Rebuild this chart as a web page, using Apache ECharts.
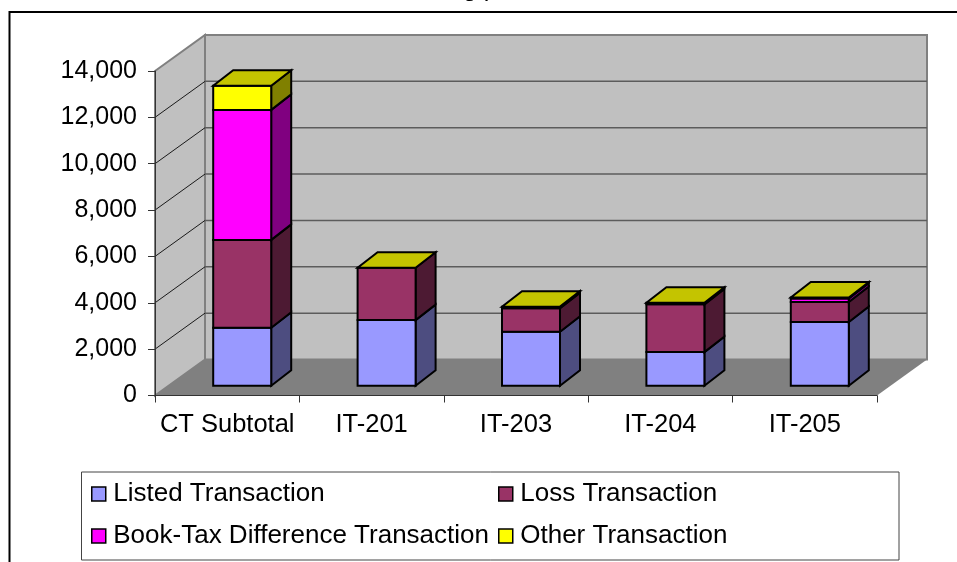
<!DOCTYPE html>
<html>
<head>
<meta charset="utf-8">
<style>html,body{margin:0;padding:0;background:#fff}#chart{width:957px;height:562px}</style>
<script src="https://cdn.jsdelivr.net/npm/echarts@6/dist/echarts.min.js"></script>
</head>
<body>
<div id="chart"></div>
<script>
// Transaction counts by tax form, stacked by transaction type
const categories = ['CT Subtotal', 'IT-201', 'IT-203', 'IT-204', 'IT-205'];
const listed  = [2500, 2830, 2330, 1450, 2750];
const loss    = [3790, 2260, 1010, 2060, 860];
const bookTax = [5610, 0, 0, 0, 150];
const other   = [1040, 0, 70, 70, 45];
const yTicks  = [0, 2000, 4000, 6000, 8000, 10000, 12000, 14000];

const FONT = '"Liberation Sans", Arial, sans-serif';
const WALL_DX = 50, WALL_DY = -36;        // depth of the whole plot box
const BAR_DX = 15, BAR_DY = -9.8;         // gap between front edge and bar front
const DEPTH_DX = 20, DEPTH_DY = -15.5;    // depth of one bar
const BAR_HALF = 29;
const EDGE = { stroke: '#000', lineWidth: 2, lineJoin: 'miter' };

const seriesDefs = [
  { name: 'Listed Transaction', values: listed, front: '#9999ff', side: '#4d4d80' },
  { name: 'Loss Transaction', values: loss, front: '#993366', side: '#4d1a33' },
  { name: 'Book-Tax Difference Transaction', values: bookTax, front: '#ff00ff', side: '#800080' },
  { name: 'Other Transaction', values: other, front: '#ffff00', side: '#808000' }
];

function poly(points, fill, style) {
  return { type: 'polygon', shape: { points }, style: Object.assign({ fill }, style) };
}

// Side wall, back wall, floor and their gridlines
function renderWalls(params, api) {
  const cs = params.coordSys;
  const l = cs.x, r = cs.x + cs.width, t = cs.y, b = cs.y + cs.height;
  const wall = { stroke: '#808080', lineWidth: 2 };
  const children = [
    poly([[l, b], [l + WALL_DX, b + WALL_DY], [r + WALL_DX, b + WALL_DY], [r, b]], '#808080'),
    poly([[l + WALL_DX, t + WALL_DY], [r + WALL_DX, t + WALL_DY], [r + WALL_DX, b + WALL_DY], [l + WALL_DX, b + WALL_DY]], '#c0c0c0', wall),
    poly([[l, t], [l + WALL_DX, t + WALL_DY], [l + WALL_DX, b + WALL_DY], [l, b]], '#c0c0c0', wall)
  ];
  yTicks.forEach(v => {
    if (v === 0 || v === 14000) return;
    const y = api.coord([0, v])[1];
    children.push({ type: 'line', shape: { x1: l, y1: y, x2: l + WALL_DX, y2: y + WALL_DY }, style: { stroke: '#1a1a1a', lineWidth: 1 } });
    children.push({ type: 'line', shape: { x1: l + WALL_DX, y1: y + WALL_DY, x2: r + WALL_DX, y2: y + WALL_DY }, style: { stroke: '#5c5c5c', lineWidth: 1.5 } });
  });
  return { type: 'group', children };
}

// One stacked block: front face, right face, and the lid on the last series
function makeRenderer(def, isTop) {
  return function (params, api) {
    const i = api.value(0), lo = api.value(1), hi = api.value(2);
    const pLo = api.coord([i, lo]), pHi = api.coord([i, hi]);
    const xl = pLo[0] + BAR_DX - BAR_HALF, xr = pLo[0] + BAR_DX + BAR_HALF;
    const yb = pLo[1] + BAR_DY, yt = pHi[1] + BAR_DY;
    const children = [];
    if (hi > lo) {
      children.push(poly([[xr, yb], [xr + DEPTH_DX, yb + DEPTH_DY], [xr + DEPTH_DX, yt + DEPTH_DY], [xr, yt]], def.side, EDGE));
      children.push(poly([[xl, yb], [xr, yb], [xr, yt], [xl, yt]], def.front, EDGE));
    }
    if (isTop) {
      children.push(poly([[xl, yt], [xr, yt], [xr + DEPTH_DX, yt + DEPTH_DY], [xl + DEPTH_DX, yt + DEPTH_DY]], '#c4c400', EDGE));
    }
    return { type: 'group', children };
  };
}

const running = categories.map(() => 0);
const barSeries = seriesDefs.map((def, s) => {
  const data = def.values.map((v, i) => {
    const row = [i, running[i], running[i] + v];
    running[i] += v;
    return row;
  });
  return {
    type: 'custom', name: def.name, coordinateSystem: 'cartesian2d', z: 3 + s,
    itemStyle: { color: def.front },
    encode: { x: 0, y: [1, 2] }, data, clip: false,
    renderItem: makeRenderer(def, s === seriesDefs.length - 1)
  };
});

const legendBase = {
  orient: 'vertical', selectedMode: false, icon: 'rect', itemWidth: 14, itemHeight: 14,
  itemGap: 14, padding: 0,
  itemStyle: { borderColor: '#000', borderWidth: 1.5 },
  textStyle: { fontFamily: FONT, fontSize: 26, color: '#000', padding: [0, 0, 0, 2.5], lineHeight: 28 }
};

const chart = echarts.init(document.getElementById('chart'), null, { renderer: 'canvas' });
chart.setOption({
  animation: false,
  backgroundColor: '#fff',
  grid: { left: 155, right: 80, top: 71, bottom: 166.5 },
  xAxis: {
    type: 'category', data: categories, z: 8,
    axisLine: { lineStyle: { color: '#333', width: 1 } },
    axisTick: { show: true, alignWithLabel: false, length: 7, lineStyle: { color: '#333' } },
    axisLabel: { fontFamily: FONT, fontSize: 25.5, color: '#000', margin: 16, interval: 0 }
  },
  yAxis: {
    type: 'value', min: 0, max: 14000, interval: 2000, z: 8,
    splitLine: { show: false },
    axisLine: { show: true, lineStyle: { color: '#333', width: 1 } },
    axisTick: { show: true, length: 7, lineStyle: { color: '#333' } },
    axisLabel: { fontFamily: FONT, fontSize: 25, color: '#000', margin: 18, padding: [6, 0, 0, 0],
      formatter: v => v.toLocaleString('en-US') }
  },
  legend: [
    Object.assign({}, legendBase, { left: 91, top: 480, data: [seriesDefs[0].name, seriesDefs[2].name] }),
    Object.assign({}, legendBase, { left: 498, top: 480, data: [seriesDefs[1].name, seriesDefs[3].name] })
  ],
  graphic: [
    { type: 'line', shape: { x1: 9, y1: 12, x2: 957, y2: 12 }, style: { stroke: '#000', lineWidth: 2 } },
    { type: 'line', shape: { x1: 9.5, y1: 11, x2: 9.5, y2: 562 }, style: { stroke: '#000', lineWidth: 2 } },
    { type: 'rect', shape: { x: 81.5, y: 472, width: 817.5, height: 88 }, style: { fill: 'none', stroke: '#444', lineWidth: 1 } },
    { type: 'text', x: 463, y: -23, style: { text: 'g p', fontFamily: FONT, fontSize: 25, fill: '#000' } }
  ],
  series: [
    { type: 'custom', name: 'walls', coordinateSystem: 'cartesian2d', z: 1, silent: true, clip: false,
      data: [[0, 0]], renderItem: renderWalls }
  ].concat(barSeries)
});
</script>
</body>
</html>
